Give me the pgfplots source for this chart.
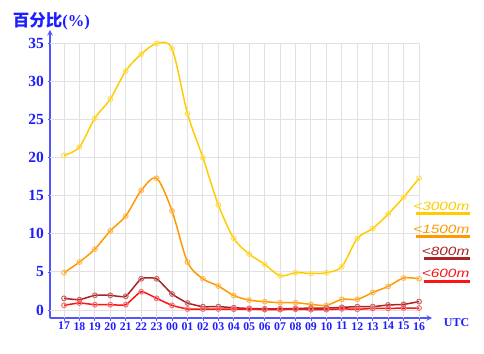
\documentclass[border=0pt]{standalone}
\usepackage{pgfplots}
\pgfplotsset{compat=1.18}
\usepackage{graphicx}
\usepackage{fontspec}
\setmainfont{Liberation Serif}
\newfontfamily\cjk{Noto Sans CJK SC}
\newfontfamily\arialf{Liberation Sans}
\definecolor{axblue}{RGB}{30,30,255}
\definecolor{axline}{RGB}{85,85,255}
\definecolor{gridc}{RGB}{225,225,225}
\definecolor{cgold}{RGB}{255,204,0}
\definecolor{cgoldm}{RGB}{255,222,90}
\definecolor{corange}{RGB}{255,153,0}
\definecolor{corangem}{RGB}{255,185,80}
\definecolor{cdred}{RGB}{170,34,34}
\definecolor{cdredm}{RGB}{200,100,100}
\definecolor{cred}{RGB}{250,20,20}
\definecolor{credm}{RGB}{250,110,110}
\begin{document}
\begin{tikzpicture}[x=1pt,y=1pt]
\path (0,0) rectangle (484,353);
\begin{axis}[
  at={(50pt,35pt)}, anchor=south west,
  scale only axis, width=382pt, height=288pt,
  xmin=-0.907, xmax=23.84, ymin=-1.05, ymax=36.77,
  axis lines=left,
  axis line style={axline, line width=1.4pt, -stealth},
  xtick={0,...,23},
  xticklabels={17,18,19,20,21,22,23,00,01,02,03,04,05,06,07,08,09,10,11,12,13,14,15,16},
  ytick={0,5,...,35},
  tick align=outside,
  major tick length=2.5pt,
  tick style={axline, line width=0.8pt},
  /pgf/number format/assume math mode=true,
  xticklabel style={font=\bfseries\fontsize{11.8}{11.8}\selectfont, text=axblue, inner sep=1pt, yshift=-0.5pt},
  yticklabel style={font=\bfseries\fontsize{15.5}{15.5}\selectfont, text=axblue},
  clip=false,
]
\pgfplotsinvokeforeach{0,...,23}{
  \draw[gridc, line width=1pt] (axis cs:#1,-1.05) -- (axis cs:#1,35);
}
\pgfplotsinvokeforeach{0,5,10,15,20,25,30,35}{
  \draw[gridc, line width=1pt] (axis cs:-0.907,#1) -- (axis cs:23,#1);
}
\addplot[cgold, line width=1.5pt, smooth, tension=0.5, mark=o, mark size=2.4pt,
  mark options={draw=cgoldm, fill=white, line width=1pt}] coordinates {
(0,20.3)(1,21.4)(2,25.2)(3,27.7)(4,31.4)(5,33.6)(6,35.0)(7,34.3)(8,25.8)(9,20.0)
(10,13.8)(11,9.4)(12,7.35)(13,6.0)(14,4.5)(15,4.9)(16,4.8)(17,4.9)(18,5.7)(19,9.4)
(20,10.7)(21,12.6)(22,14.8)(23,17.3)};
\addplot[corange, line width=1.5pt, smooth, tension=0.5, mark=o, mark size=2.4pt,
  mark options={draw=corangem, fill=white, line width=1pt}] coordinates {
(0,4.9)(1,6.3)(2,8.0)(3,10.4)(4,12.35)(5,15.7)(6,17.3)(7,13.0)(8,6.3)(9,4.1)
(10,3.15)(11,1.9)(12,1.3)(13,1.1)(14,0.96)(15,0.96)(16,0.74)(17,0.61)(18,1.4)(19,1.4)
(20,2.3)(21,3.1)(22,4.2)(23,4.1)};
\addplot[cdred, line width=1.5pt, smooth, tension=0.3, mark=o, mark size=2.4pt,
  mark options={draw=cdredm, fill=white, line width=1pt}] coordinates {
(0,1.53)(1,1.36)(2,1.93)(3,1.93)(4,1.8)(5,4.1)(6,4.1)(7,2.1)(8,0.92)(9,0.44)
(10,0.44)(11,0.3)(12,0.2)(13,0.15)(14,0.15)(15,0.2)(16,0.25)(17,0.25)(18,0.35)(19,0.44)
(20,0.44)(21,0.66)(22,0.74)(23,1.1)};
\addplot[cred, line width=1.5pt, smooth, tension=0.3, mark=o, mark size=2.4pt,
  mark options={draw=credm, fill=white, line width=1pt}] coordinates {
(0,0.61)(1,0.92)(2,0.7)(3,0.7)(4,0.7)(5,2.4)(6,1.53)(7,0.61)(8,0.13)(9,0.13)
(10,0.13)(11,0.1)(12,0.13)(13,0.05)(14,0.05)(15,0.1)(16,0.05)(17,0.05)(18,0.15)(19,0.1)
(20,0.2)(21,0.2)(22,0.26)(23,0.26)};
\end{axis}
% title and axis label
\node[anchor=west, text=axblue, inner sep=0pt] at (12.7,331.3)
  {\fontsize{16.5}{16.5}\selectfont{\cjk\bfseries 百分比}{\bfseries(\%)}};
\node[text=axblue, inner sep=0pt] at (456.5,30.3)
  {\bfseries\fontsize{12}{12}\selectfont UTC};
% legend
\node[anchor=east, text=cgold, inner sep=0pt] at (469.5,146.3)
  {\scalebox{1.28}[1]{\arialf\itshape\fontsize{12}{12}\selectfont <3000m}};
\draw[cgold, line width=3pt] (415.5,139.7) -- (469.5,139.7);
\node[anchor=east, text=corange, inner sep=0pt] at (469.5,123.7)
  {\scalebox{1.28}[1]{\arialf\itshape\fontsize{12}{12}\selectfont <1500m}};
\draw[corange, line width=3pt] (415.5,116.3) -- (469.5,116.3);
\node[anchor=east, text=cdred, inner sep=0pt] at (469.5,102)
  {\scalebox{1.28}[1]{\arialf\itshape\fontsize{12}{12}\selectfont <800m}};
\draw[cdred, line width=3pt] (424,94) -- (469.5,94);
\node[anchor=east, text=cred, inner sep=0pt] at (469.5,79.7)
  {\scalebox{1.28}[1]{\arialf\itshape\fontsize{12}{12}\selectfont <600m}};
\draw[cred, line width=3pt] (424,71.3) -- (469.5,71.3);
\end{tikzpicture}
\end{document}
